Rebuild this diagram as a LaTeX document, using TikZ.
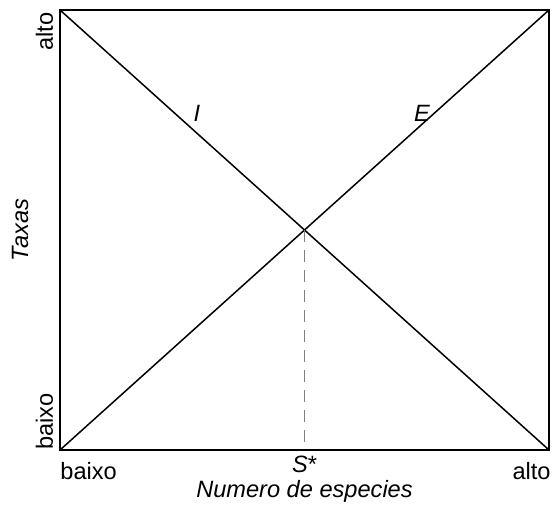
\documentclass[tikz,border=0pt]{standalone}
\usepackage{fontspec}
\setmainfont{Liberation Sans}
\usepackage{tikz}
\usetikzlibrary{positioning}

\begin{document}
\begin{tikzpicture}[
    x=0.5pt, y=-0.5pt,
    axislbl/.style={inner sep=0, font=\fontsize{11.8}{14}\selectfont},
    curvelbl/.style={inner sep=0, font=\fontsize{11.8}{14}\selectfont\itshape},
    frameline/.style={line width=1pt},
    rateline/.style={line width=0.75pt},
]
    \useasboundingbox (0,0) rectangle (552,508);

    % corners of the plot region
    \coordinate (ul) at (60,10);
    \coordinate (ur) at (549,10);
    \coordinate (ll) at (60,450);
    \coordinate (lr) at (549,450);
    \coordinate (sstar) at (304.5,230);
    \coordinate (sfoot) at (304.5,450);

    % rate lines
    \draw[rateline] (ul) -- (lr);
    \draw[rateline] (ll) -- (ur);
    \draw[gray, line width=0.5pt, dash pattern=on 6pt off 4pt] (sstar) -- (sfoot);
    \draw[frameline] (ul) rectangle (lr);

    \node[curvelbl] (imm) at (197,113) {I};
    \node[curvelbl] (ext) at (422,113) {E};

    % axis ticks
    \node[axislbl, rotate=90, anchor=base east] (yhigh) at (53,12) {alto};
    \node[axislbl, rotate=90, anchor=base west] (ylow) at (53,450) {baixo};
    \node[axislbl, anchor=base west] (xlow) at (60,479) {baixo};
    \node[axislbl, anchor=base east] (xhigh) at (551,479) {alto};
    \node[axislbl, anchor=base] (seq) at (304.5,472) {\textit{S}*};

    % axis titles
    \node[curvelbl, anchor=base] (xtitle) at (304.5,497) {Numero de especies};
    \node[curvelbl, rotate=90, anchor=base] (ytitle) at (28,230) {Taxas};
\end{tikzpicture}
\end{document}
